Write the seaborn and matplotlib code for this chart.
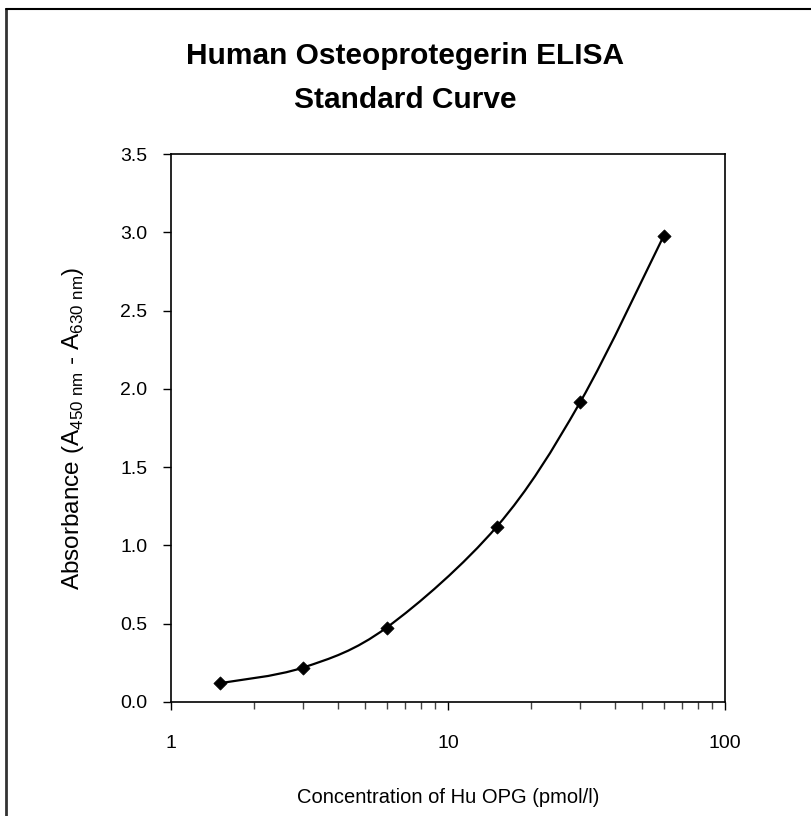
import numpy as np
import pandas as pd
import seaborn as sns
import matplotlib.pyplot as plt
from matplotlib.path import Path
from matplotlib.patches import PathPatch
from matplotlib.lines import Line2D
from matplotlib.ticker import LogLocator, NullFormatter, FixedLocator, FuncFormatter

# standard curve data
conc = [1.5, 3, 6, 15, 30, 60]
absorbance = [0.12, 0.22, 0.475, 1.12, 1.915, 2.975]
x_ticks = [1, 10, 100]
y_ticks = [0.0, 0.5, 1.0, 1.5, 2.0, 2.5, 3.0, 3.5]

df = pd.DataFrame({'conc': conc, 'abs': absorbance})

sns.set_style('ticks')
plt.rcParams['font.family'] = ['Liberation Sans', 'DejaVu Sans']
plt.rcParams['text.color'] = 'black'
plt.rcParams['axes.labelcolor'] = 'black'
plt.rcParams['mathtext.fontset'] = 'custom'
plt.rcParams['mathtext.rm'] = 'Liberation Sans'

fig = plt.figure(figsize=(8.11, 8.16), dpi=100)
ax = fig.add_axes([171/811, 1 - 702/816, (725 - 171)/811, (702 - 154)/816])

# smoothed line like excel (catmull-rom bezier in log-x space)
lx = np.log10(df['conc'].values)
ly = df['abs'].values
pts = np.column_stack([lx, ly])
verts = [pts[0]]
codes = [Path.MOVETO]
n = len(pts)
for i in range(n - 1):
    p0 = pts[i - 1] if i > 0 else pts[i]
    p1 = pts[i]
    p2 = pts[i + 1]
    p3 = pts[i + 2] if i + 2 < n else pts[i + 1]
    c1 = p1 + (p2 - p0) / 6
    c2 = p2 - (p3 - p1) / 6
    verts += [c1, c2, p2]
    codes += [Path.CURVE4] * 3
verts = np.array(verts)
verts[:, 0] = 10 ** verts[:, 0]

ax.set_xscale('log')
ax.add_patch(PathPatch(Path(verts, codes), facecolor='none', edgecolor='black', lw=1.6, zorder=2))

sns.scatterplot(data=df, x='conc', y='abs', marker='D', s=45, color='black', edgecolor='black', ax=ax, zorder=3)

ax.set_xlim(1, 100)
ax.set_ylim(0, 3.5)
ax.xaxis.set_major_locator(FixedLocator(x_ticks))
ax.xaxis.set_major_formatter(FuncFormatter(lambda v, p: f'{v:g}'))
ax.xaxis.set_minor_locator(LogLocator(base=10, subs=np.arange(2, 10)))
ax.xaxis.set_minor_formatter(NullFormatter())
ax.set_yticks(y_ticks)
ax.set_yticklabels([f'{v:.1f}' for v in y_ticks])

for s in ax.spines.values():
    s.set_visible(True)
    s.set_color('black')
    s.set_linewidth(1.2)

ax.tick_params(axis='both', which='major', direction='out', length=6, width=1, colors='black', labelsize=14, pad=18)
ax.tick_params(axis='y', which='major', pad=11)
ax.tick_params(axis='x', which='minor', direction='out', length=5, width=1, color='#444444')

ax.set_xlabel('Concentration of Hu OPG (pmol/l)', fontsize=14.5, labelpad=26)
ax.set_ylabel(r'Absorbance (A$_{\mathregular{450\ nm}}$ - A$_{\mathregular{630\ nm}}$)', fontsize=17.5, labelpad=25)

title_font = dict(family=['Liberation Sans', 'DejaVu Sans'], fontsize=21.5, fontweight='bold')
fig.text(0.5, 1 - 56/816, 'Human Osteoprotegerin ELISA', ha='center', va='center', **title_font)
fig.text(0.5, 1 - 100/816, 'Standard Curve', ha='center', va='center', **title_font)

# outer frame lines
fig.add_artist(Line2D([6/811, 6/811], [0, 1 - 9/816], color='#333333', lw=2))
fig.add_artist(Line2D([6/811, 1], [1 - 9/816, 1 - 9/816], color='black', lw=1.5))

fig.savefig('out.png', dpi=100, facecolor='white')
